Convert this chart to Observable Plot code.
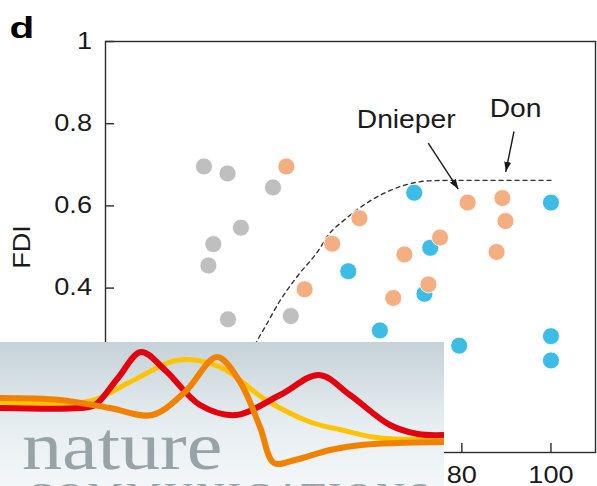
<!DOCTYPE html>
<html>
<head>
<meta charset="utf-8">
<script src="https://cdn.jsdelivr.net/npm/d3@7"></script>
<script src="https://cdn.jsdelivr.net/npm/@observablehq/plot@0.6"></script>
<style>
  html, body { margin: 0; padding: 0; background: #fff; }
  #wrap { position: relative; width: 597px; height: 486px; overflow: hidden; }
  #logo { position: absolute; left: 0; top: 342px; }
</style>
</head>
<body>
<div id="wrap"></div>
<script>
// ---- data ----
const grayX = [22.1, 27.4, 37.6, 30.4, 24.2, 23.1, 27.5, 41.6];
const grayY = [0.696, 0.679, 0.645, 0.547, 0.507, 0.455, 0.324, 0.332];

const orangeX = [40.6, 44.7, 57.0, 50.9, 81.3, 75.1, 67.1, 72.5, 64.6, 89.1, 89.8, 87.8];
const orangeY = [0.696, 0.397, 0.570, 0.508, 0.608, 0.523, 0.482, 0.409, 0.376, 0.619, 0.563, 0.488];

const blueX = [69.3, 72.9, 54.5, 71.6, 61.6, 79.4, 100, 100, 100];
const blueY = [0.632, 0.498, 0.441, 0.386, 0.297, 0.260, 0.608, 0.283, 0.224];

const curveX = [30.5, 34.3, 35.7, 39.1, 42.8, 47.7, 50.3, 53.3, 57.7, 62.2, 66.7, 72.7, 77.2, 100];
const curveY = [0.19, 0.277, 0.303, 0.368, 0.425, 0.490, 0.533, 0.563, 0.600, 0.629, 0.649, 0.661, 0.662, 0.662];

const annoText = ["Dnieper", "Don"];
const annoX = [67.5, 92.05];
const annoY = [0.81, 0.836];

const arrowX1 = [72.45, 91.7];
const arrowY1 = [0.753, 0.781];
const arrowX2 = [79.2, 89.85];
const arrowY2 = [0.641, 0.683];

// all tick positions (lower ones sit under the journal logo)
const xTicks = [0, 20, 40, 60, 80, 100];
const yTicks = [0, 0.2, 0.4, 0.6, 0.8, 1];
// tick labels visible in the reference
const xTickLabels = [80, 100];
const yTickLabelValues = [0.4, 0.6, 0.8, 1];
const yTickLabels = ["0.4", "0.6", "0.8", "1"];

const panelLabel = ["d"];

// ---- chart ----
const idx = (arr) => arr.map((_, i) => i);
const ink = "#2b2b2b";

const chart = Plot.plot({
  width: 597,
  height: 486,
  marginTop: 41,
  marginBottom: 34,
  marginLeft: 105,
  marginRight: 2,
  style: { fontFamily: "'Liberation Sans', Arial, sans-serif", color: "#1a1a1a", background: "#fff" },
  x: { domain: [0, 110] },
  y: { domain: [0, 1] },
  marks: [
    Plot.frame({ stroke: ink, strokeWidth: 1.4 }),
    Plot.tickY(yTicks, { y: d => d, insetRight: 481, stroke: ink, strokeWidth: 1.4 }),
    Plot.tickX(xTicks, { x: d => d, insetTop: 402, stroke: ink, strokeWidth: 1.4 }),
    Plot.axisY(yTickLabelValues, {
      tickSize: 0, tickPadding: 13.5, fontSize: 23,
      tickFormat: d => yTickLabels[yTickLabelValues.indexOf(d)],
      label: "FDI", labelAnchor: "center", labelOffset: 92, labelArrow: "none"
    }),
    Plot.axisX(xTickLabels, { tickSize: 0, tickPadding: 14.5, fontSize: 23, label: null }),
    Plot.line(idx(curveX), {
      x: i => curveX[i], y: i => curveY[i], curve: "monotone-x",
      stroke: "#333", strokeWidth: 1.4, strokeDasharray: "4,4"
    }),
    Plot.dot(idx(grayX), { x: i => grayX[i], y: i => grayY[i], r: 8.5, fill: "#bfbfbf", stroke: "#fff", strokeWidth: 0.8 }),
    Plot.dot(idx(blueX), { x: i => blueX[i], y: i => blueY[i], r: 8.5, fill: "#3dbde5", stroke: "#fff", strokeWidth: 0.8 }),
    Plot.dot(idx(orangeX), { x: i => orangeX[i], y: i => orangeY[i], r: 8.5, fill: "#f3af82", stroke: "#fff", strokeWidth: 0.8 }),
    Plot.link(idx(arrowX1), {
      x1: i => arrowX1[i], y1: i => arrowY1[i], x2: i => arrowX2[i], y2: i => arrowY2[i],
      stroke: "#1a1a1a", strokeWidth: 1.4
    }),
    Plot.text(idx(annoText), {
      x: i => annoX[i], y: i => annoY[i], text: i => annoText[i],
      fontSize: 25, fill: "#1a1a1a"
    }),
    Plot.text(panelLabel, {
      text: d => d, frameAnchor: "top-left", dx: -96, dy: -24.8,
      textAnchor: "start", lineAnchor: "top", fontSize: 30, fontWeight: "bold", fill: "#000"
    })
  ]
});

// widen the text like the reference's wide sans face
d3.select(chart).selectAll("text").each(function () {
  const t = this.textContent;
  const s = t === "d" ? 1.35 : (t === "Dnieper" || t === "Don") ? 1.13 : 1.18;
  const tr = this.getAttribute("transform") || "";
  this.setAttribute("transform", (tr + ` scale(${s},1)`).trim());
});

// solid triangular arrowheads on the annotation leaders
const svgSel = d3.select(chart);
const defs = svgSel.insert("defs", ":first-child");
defs.append("marker").attr("id", "ahead")
  .attr("viewBox", "0 -4 10 8").attr("refX", 10).attr("refY", 0)
  .attr("markerUnits", "userSpaceOnUse").attr("markerWidth", 10).attr("markerHeight", 8)
  .attr("orient", "auto")
  .append("path").attr("d", "M0,-3.5L10,0L0,3.5Z").attr("fill", "#1a1a1a");
svgSel.selectAll("g[aria-label='link'] path, g[aria-label='link'] line").attr("marker-end", "url(#ahead)");

const wrap = document.getElementById("wrap");
wrap.appendChild(chart);

// ---- journal logo overlay (decorative, covers lower-left of the panel) ----
const redPts = [[0,66],[80,66],[95,63],[118,36],[141,10],[165,28],[200,63],[236,73],[280,53],[319,33],[350,53],[390,83],[418,92],[444,93]];
const yellowPts = [[0,60],[90,59],[130,40],[179,18],[220,25],[266,58],[310,80],[342,88],[380,96],[444,97]];
const orangePts = [[0,56],[60,58],[110,66],[152,73],[185,50],[217,15],[240,40],[260,85],[274,121],[295,118],[330,108],[361,103],[444,100]];

const logo = d3.create("svg").attr("id", "logo").attr("width", 444).attr("height", 144);
const grad = logo.append("defs").append("linearGradient").attr("id", "lg").attr("x1", 0).attr("y1", 0).attr("x2", 0).attr("y2", 1);
grad.append("stop").attr("offset", "0%").attr("stop-color", "#c5d2d7");
grad.append("stop").attr("offset", "55%").attr("stop-color", "#e6edf0");
grad.append("stop").attr("offset", "100%").attr("stop-color", "#f3f7f9");
logo.append("rect").attr("width", 444).attr("height", 144).attr("fill", "url(#lg)");
const ln = d3.line().curve(d3.curveCatmullRom);
logo.append("path").attr("d", ln(yellowPts)).attr("fill", "none").attr("stroke", "#ffc300").attr("stroke-width", 5);
logo.append("path").attr("d", ln(redPts)).attr("fill", "none").attr("stroke", "#e3000f").attr("stroke-width", 6);
logo.append("path").attr("d", ln(orangePts)).attr("fill", "none").attr("stroke", "#f08200").attr("stroke-width", 6);
logo.append("text").text("nature")
  .attr("transform", "translate(22,127) scale(1.18,1)")
  .attr("font-family", "'Liberation Serif', 'DejaVu Serif', serif")
  .attr("font-size", 68).attr("fill", "#98a3a7");
logo.append("text").text("COMMUNICATIONS")
  .attr("x", 26).attr("y", 168)
  .attr("textLength", 404).attr("lengthAdjust", "spacing")
  .attr("font-family", "'Liberation Serif', 'DejaVu Serif', serif")
  .attr("font-size", 40).attr("fill", "#98a3a7");
wrap.appendChild(logo.node());
</script>
</body>
</html>
